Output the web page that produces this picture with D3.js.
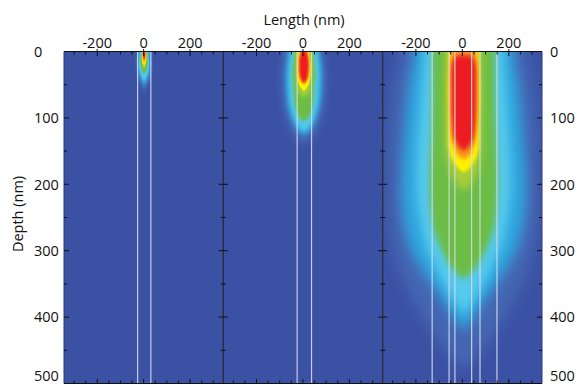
<!DOCTYPE html>
<html><head><meta charset="utf-8">
<script src="https://cdn.jsdelivr.net/npm/d3@7"></script>
<style>html,body{margin:0;padding:0;background:#fff;overflow:hidden}svg{display:block}</style>
</head><body><svg id="chart" width="579" height="385"></svg>
<script>
// ---------- data ----------
const depthTicks = [0, 100, 200, 300, 400, 500];
const lengthTicks = [-200, 0, 200];
const lengthDomain = [-343, 343];
const depthDomain = [0, 500];
// normalised field level of each contour (outer -> inner)
const levelValues = [0.1, 0.3, 0.42, 0.55, 0.66, 0.78, 0.88, 1.0];
const colorStops = [0, 0.1, 0.3, 0.42, 0.55, 0.66, 0.78, 0.88, 1];
const colorRange = ['#3B51A3', '#4466B3', '#2FA6DE', '#55C9EE', '#6CBD45', '#A6CE39', '#FFF200', '#F7941D', '#ED1C24'];
// field centre (nm) of each panel
const fieldCenters = [2, 4, 6];
// wire outlines [left, right] in nm
const wires1 = [[-26, 31]];
const wires2 = [[-25, 37]];
const wires3 = [[-130, -57], [-32, 40], [76, 149]];
// contour half-widths: [depth nm, half-width nm], one list per level
const contours1 = [
  [[-20,33],[0,33],[20,36],[40,28],[55,12],[62,0]],
  [[-20,24],[0,24],[20,28],[35,22],[46,10],[52,0]],
  [[-20,18],[0,18],[20,22],[32,17],[40,8],[44,0]],
  [[-20,12],[0,12],[15,16],[25,13],[31,6],[34,0]],
  [[-20,10],[0,10],[15,11],[22,7],[27,0]],
  [[-20,8],[0,8],[10,9],[17,6],[21,0]],
  [[-20,6.5],[0,6.5],[8,7],[13,4],[16,0]],
  [[-20,5],[0,5],[5,5],[9,3],[12,0]]
];
const contours2 = [
  [[-30,90],[0,90],[40,98],[80,92],[110,70],[130,40],[142,0]],
  [[-30,69],[0,69],[33,79],[83,69],[108,46],[120,25],[127,0]],
  [[-30,56],[0,56],[33,65],[83,55],[108,32],[116,15],[120,0]],
  [[-30,42],[0,42],[33,49],[53,45],[83,38],[98,22],[106,0]],
  [[-30,32],[0,32],[40,33],[60,25],[70,0]],
  [[-30,24],[0,24],[20,29],[40,27],[52,18],[60,0]],
  [[-30,18],[0,18],[20,23],[38,20],[46,10],[50,0]],
  [[-30,12],[2,12],[10,18],[25,19],[38,15],[44,8],[47,0]]
];
const contours3 = [
  [[-40,270],[0,270],[50,300],[120,318],[200,325],[260,318],[320,285],[370,225],[415,150],[455,70],[480,0]],
  [[-40,213],[0,213],[50,235],[100,250],[200,268],[240,264],[290,236],[320,196],[350,140],[380,82],[405,36],[420,0]],
  [[-40,170],[0,170],[100,190],[200,204],[240,194],[290,165],[320,128],[350,86],[375,44],[395,0]],
  [[-40,134],[0,134],[100,137],[200,146],[240,140],[265,130],[290,106],[315,72],[332,36],[343,0]],
  [[-40,80],[0,80],[100,80],[150,78],[180,60],[200,30],[210,0]],
  [[-40,64],[0,64],[50,69],[100,67],[150,62],[168,42],[178,18],[182,0]],
  [[-40,50],[0,55],[50,60],[100,57],[140,46],[155,28],[163,0]],
  [[6,30],[15,48],[60,53],[100,51],[130,42],[143,22],[150,0]]
];

// ---------- layout / style ----------
const panelLefts = [64, 223.3, 382.7];
const panelWidth = 159.3;
const levelBlur = [1, 0.75, 0.6, 0.45, 0.55, 0.22, 0.28, 0.28];
const panelBlur = [[1.3, 3.2], [3.5, 3.5], [7, 7]];
const font = "'Open Sans', 'Liberation Sans', sans-serif";

const svg = d3.select('#chart');
const defs = svg.append('defs');
const y = d3.scaleLinear().domain(depthDomain).range([51.5, 383.5]);
const color = d3.scaleLinear().domain(colorStops).range(colorRange);

const contours = [contours1, contours2, contours3];
const wires = [wires1, wires2, wires3];

panelLefts.forEach((left, p) => {
  const x = d3.scaleLinear().domain(lengthDomain).range([left, left + panelWidth]);
  const c = fieldCenters[p];
  defs.append('clipPath').attr('id', 'clip' + p)
    .append('rect').attr('x', x(lengthDomain[0])).attr('y', y(0))
    .attr('width', x(lengthDomain[1]) - x(lengthDomain[0])).attr('height', y(500) - y(0));
  const g = svg.append('g').attr('clip-path', `url(#clip${p})`);
  g.append('rect').attr('x', x(lengthDomain[0])).attr('y', y(0))
    .attr('width', x(lengthDomain[1]) - x(lengthDomain[0])).attr('height', y(500) - y(0))
    .attr('fill', color(0));
  const area = d3.area().curve(d3.curveCatmullRom.alpha(0.5))
    .y(d => y(d[0])).x0(d => x(c - d[1])).x1(d => x(c + d[1]));
  contours[p].forEach((pts, k) => {
    const fid = `b${p}_${k}`;
    defs.append('filter').attr('id', fid).attr('filterUnits', 'userSpaceOnUse')
      .attr('x', left - 60).attr('y', -50).attr('width', panelWidth + 120).attr('height', 500)
      .append('feGaussianBlur')
      .attr('stdDeviation', `${panelBlur[p][0] * levelBlur[k]} ${panelBlur[p][1] * levelBlur[k]}`);
    g.append('path').attr('d', area(pts)).attr('fill', color(levelValues[k]))
      .attr('filter', `url(#${fid})`);
  });
  // wires
  svg.append('g').selectAll('rect').data(wires[p]).join('rect')
    .attr('x', d => x(d[0])).attr('y', y(0))
    .attr('width', d => x(d[1]) - x(d[0])).attr('height', y(500) - y(0))
    .attr('fill', 'none').attr('stroke', '#D6DAE8').attr('stroke-opacity', 0.9).attr('stroke-width', 1.2);

  // top axis ticks & labels, bottom ticks
  const ax = svg.append('g').attr('stroke', '#111').attr('stroke-width', 1);
  const xt = d3.range(-300, 301, 50);
  ax.selectAll('.tt').data(xt).join('line')
    .attr('x1', d => x(d)).attr('x2', d => x(d))
    .attr('y1', d => lengthTicks.includes(d) ? y(0) - 2.5 : y(0))
    .attr('y2', d => lengthTicks.includes(d) ? y(0) + 4.5 : y(0) + 3);
  ax.selectAll('.bt').data(xt).join('line')
    .attr('x1', d => x(d)).attr('x2', d => x(d))
    .attr('y1', d => lengthTicks.includes(d) ? y(500) - 4.5 : y(500) - 3)
    .attr('y2', y(500));
  svg.append('g').selectAll('text').data(lengthTicks).join('text')
    .attr('x', d => x(d)).attr('y', 47.5).attr('text-anchor', 'middle')
    .attr('font-family', font).attr('font-size', 14.5).attr('fill', '#111')
    .text(d => d < 0 ? '-' + Math.abs(d) : d);
});

// frame lines
const x0 = panelLefts[0], x3 = panelLefts[2] + panelWidth;
const frame = svg.append('g').attr('stroke', '#111').attr('stroke-width', 1);
frame.append('line').attr('x1', x0).attr('x2', x3).attr('y1', y(0)).attr('y2', y(0));
frame.append('line').attr('x1', x0).attr('x2', x3).attr('y1', y(500)).attr('y2', y(500));
[panelLefts[1], panelLefts[2]].forEach(sx => {
  frame.append('line').attr('x1', sx).attr('x2', sx).attr('y1', y(0)).attr('y2', y(500));
});
frame.append('line').attr('x1', x0).attr('x2', x0).attr('y1', y(0)).attr('y2', y(500)).attr('stroke', '#2A3A7E');
frame.append('line').attr('x1', x3).attr('x2', x3).attr('y1', y(0)).attr('y2', y(500)).attr('stroke', '#2A3A7E');

// depth ticks
const yt = d3.range(0, 501, 50);
const isMajor = d => d % 100 === 0;
const tk = svg.append('g').attr('stroke', '#111').attr('stroke-width', 1);
yt.forEach(d => {
  const m = isMajor(d);
  tk.append('line').attr('x1', x0).attr('x2', x0 + (m ? 5 : 3)).attr('y1', y(d)).attr('y2', y(d));
  tk.append('line').attr('x1', x3 - (m ? 5 : 3)).attr('x2', x3).attr('y1', y(d)).attr('y2', y(d));
  [panelLefts[1], panelLefts[2]].forEach(sx => {
    const h = m ? 4.5 : 2.5;
    tk.append('line').attr('x1', sx - h).attr('x2', sx + h).attr('y1', y(d)).attr('y2', y(d));
  });
});

// depth labels (last one kept inside the picture)
const labelY = d => d === 500 ? 380.5 : y(d);
const labelDy = d => d === 500 ? '0' : '0.36em';
svg.append('g').selectAll('text').data(depthTicks).join('text')
  .attr('x', 34).attr('y', labelY).attr('dy', labelDy).attr('text-anchor', 'start')
  .attr('font-family', font).attr('font-size', 14.5).attr('fill', '#111').text(d => d);
svg.append('g').selectAll('text').data(depthTicks).join('text')
  .attr('x', 550).attr('y', labelY).attr('dy', labelDy).attr('text-anchor', 'start')
  .attr('font-family', font).attr('font-size', 14.5).attr('fill', '#111').text(d => d);

// axis titles
svg.append('text').attr('x', 304).attr('y', 25).attr('text-anchor', 'middle')
  .attr('font-family', font).attr('font-size', 14.5).attr('fill', '#111').text('Length (nm)');
svg.append('text').attr('transform', 'translate(23,214) rotate(-90)').attr('text-anchor', 'middle')
  .attr('font-family', font).attr('font-size', 14.5).attr('fill', '#111').text('Depth (nm)');
</script></body></html>
